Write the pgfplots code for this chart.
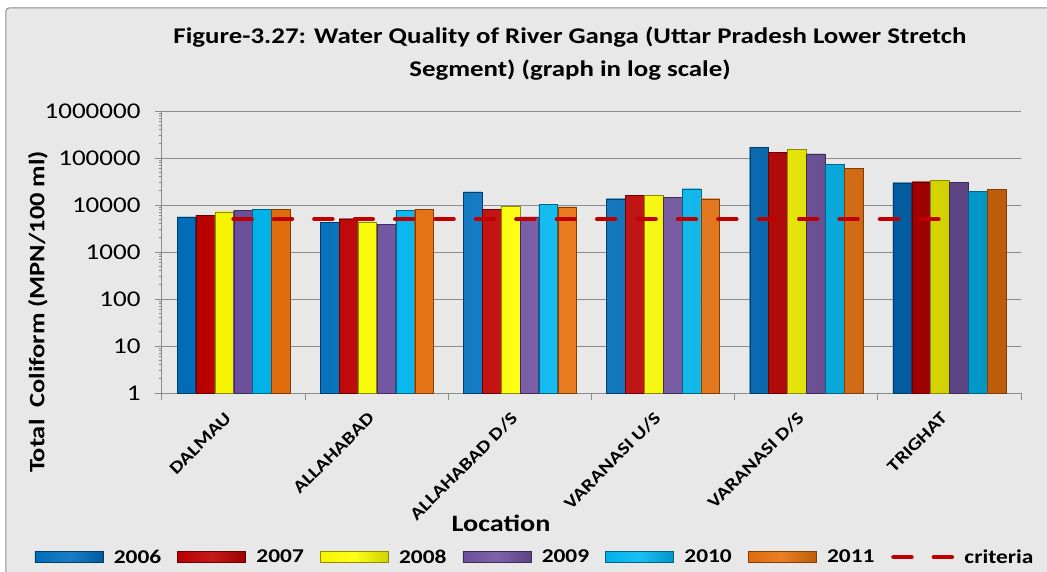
\documentclass[border=0pt]{standalone}
\usepackage{fontspec}
\setmainfont{Carlito}[FakeStretch=1.2]
\usepackage{pgfplots}
\usepackage{pgfplotstable}
\pgfplotsset{compat=1.18}

\definecolor{cA}{HTML}{0070C0}
\definecolor{cB}{HTML}{C00000}
\definecolor{cC}{HTML}{FFFF00}
\definecolor{cD}{HTML}{7052A0}
\definecolor{cE}{HTML}{00B8F2}
\definecolor{cF}{HTML}{E8700C}
\definecolor{crit}{HTML}{C00000}

% total coliform (MPN/100 ml)
\pgfplotstableread{
idx  y2006  y2007  y2008  y2009  y2010  y2011
0    5600   6100   7200   7700   8200   8200
1    4300   5100   4400   3900   7700   8200
2    19000  8200   9400   5600   10300  9100
3    13600  15800  16300  14600  22200  13600
4    171000 134000 153000 122000 74000  61000
5    29800  31300  34000  30800  19200  21200
}\coliform

\pgfplotstableread{
idx  crit
0    5000
1    5000
2    5000
3    5000
4    5000
5    5000
}\criteria

\pgfplotsset{
  barcol/.style={fill=#1, draw=#1!55!black, line width=0.4pt,
    left color=#1!96!black, right color=#1!82!black, middle color=#1!90!white},
  barleg/.style={legend image code/.code={%
    \draw[##1] (0pt,-5.5pt) rectangle (68pt,5.5pt);
    \path[draw=none, fill=none, shade=false] (0pt,0pt) -- (77pt,0pt);}},
  critleg/.style={legend image code/.code={%
    \draw[##1] (3pt,0pt) -- (62pt,0pt);
    \path[draw=none, fill=none] (0pt,0pt) -- (72pt,0pt);}},
}

\begin{document}
\begin{tikzpicture}
  \filldraw[fill=black!9, draw=black!45, line width=1pt, rounded corners=3pt]
    (-156pt,-200pt) rectangle (910pt,385pt);

  \begin{axis}[scale only axis, width=859pt, height=282pt,
    ymode=log, ymin=1, ymax=1000000, log origin=0,
    xmin=-0.5, xmax=5.5,
    ybar=0.3pt, bar width=18.6pt,
    ytick={1,10,100,1000,10000,100000,1000000},
    yticklabels={1,10,100,1000,10000,100000,1000000},
    yticklabel style={font=\fontsize{22.5}{24}\selectfont, xshift=-11pt},
    xtick={-0.5,0.5,1.5,2.5,3.5,4.5,5.5}, xticklabels={},
    extra x ticks={0,1,2,3,4,5},
    extra x tick labels={DALMAU,ALLAHABAD,ALLAHABAD D/S,VARANASI U/S,VARANASI D/S,TRIGHAT},
    extra x tick style={major tick length=0pt, grid=none,
      xticklabel style={xshift=-3pt, yshift=-20pt, rotate=45, anchor=east,
        font=\bfseries\fontsize{17.5}{20}\selectfont}},
    tick align=outside, major tick length=7pt,
    tick style={draw=black!45, line width=1pt},
    ymajorgrids, xmajorgrids=false,
    grid style={draw=black!45, line width=1pt},
    axis line style={draw=black!45, line width=1pt},
    axis x line*=bottom, axis y line*=left,
    legend columns=7,
    legend style={at={(-0.152,-0.582)}, anchor=west, draw=none, fill=none,
      font=\bfseries\fontsize{19.5}{22}\selectfont,
      /tikz/every even column/.append style={column sep=14pt}},
  ]
    \addplot[barcol=cA, barleg] table[x=idx,y=y2006] {\coliform};
    \addplot[barcol=cB, barleg] table[x=idx,y=y2007] {\coliform};
    \addplot[barcol=cC, barleg] table[x=idx,y=y2008] {\coliform};
    \addplot[barcol=cD, barleg] table[x=idx,y=y2009] {\coliform};
    \addplot[barcol=cE, barleg] table[x=idx,y=y2010] {\coliform};
    \addplot[barcol=cF, barleg] table[x=idx,y=y2011] {\coliform};
    \addplot[sharp plot, no marks, draw=crit, line width=4.5pt, line cap=round,
      dash pattern=on 18pt off 22.4pt, critleg]
      table[x=idx,y=crit] {\criteria};
    \legend{2006,2007,2008,2009,2010,2011,criteria}
  \end{axis}

  \node[font=\bfseries\fontsize{22.4}{33}\selectfont, align=center]
    at (408pt,339.5pt) {Figure-3.27: Water Quality of River Ganga (Uttar Pradesh Lower Stretch\\Segment) (graph in log scale)};
  \node[font=\bfseries\fontsize{22}{24}\selectfont, rotate=90]
    at (-124pt,81pt) {Total\ \ Coliform (MPN/100 ml)};
  \node[font=\bfseries\fontsize{23.5}{24}\selectfont]
    at (339pt,-130pt) {Location};

  \pgfresetboundingbox
  \useasboundingbox (-162pt,-178pt) rectangle (885pt,393pt);
\end{tikzpicture}
\end{document}
